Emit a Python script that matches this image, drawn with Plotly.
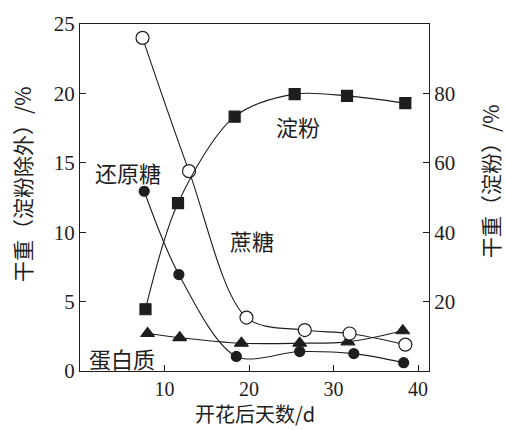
import plotly.graph_objects as go

# Data
sucrose_x = [7.4, 12.9, 19.7, 26.6, 31.9, 38.5]
sucrose_y = [24.0, 14.4, 3.85, 2.95, 2.7, 1.9]

starch_x = [7.75, 11.6, 18.3, 25.4, 31.6, 38.5]
starch_y = [17.8, 48.4, 73.3, 79.8, 79.3, 77.2]

reducing_x = [7.6, 11.7, 18.5, 26.0, 32.4, 38.3]
reducing_y = [12.95, 6.95, 1.05, 1.4, 1.25, 0.6]

protein_x = [8.0, 11.8, 19.1, 26.0, 31.7, 38.2]
protein_y = [2.7, 2.4, 2.0, 2.0, 2.1, 2.9]

x_ticks = [10, 20, 30, 40]
y_left_ticks = [0, 5, 10, 15, 20, 25]
y_right_ticks = [20, 40, 60, 80]

INK = "#1e1e1e"
NUM_FONT = dict(family="Liberation Serif", size=21, color=INK)
X_NUM_FONT = dict(family="Liberation Serif", size=20, color=INK)
CJK = "Noto Sans CJK SC"

# plot box in pixels
L, R, T, B = 80, 429, 13, 371
W, H = 506, 430

fig = go.Figure()

def line_trace(x, y, symbol, size, fill, yaxis="y"):
    return go.Scatter(
        x=x, y=y, mode="lines+markers", yaxis=yaxis,
        line=dict(color=INK, width=1.1, shape="spline", smoothing=0.9),
        marker=dict(symbol=symbol, size=size, color=fill,
                    line=dict(color=INK, width=1.2)),
        showlegend=False, cliponaxis=False, hoverinfo="skip",
    )

fig.add_trace(line_trace(starch_x, starch_y, "square", 11, INK, yaxis="y2"))
fig.add_trace(line_trace(protein_x, protein_y, "triangle-up", 12, INK))
fig.add_trace(line_trace(reducing_x, reducing_y, "circle", 10, INK))
fig.add_trace(line_trace(sucrose_x, sucrose_y, "circle", 13, "white"))

fig.update_layout(
    width=W, height=H,
    margin=dict(l=L, r=W - R, t=T, b=H - B),
    paper_bgcolor="white", plot_bgcolor="white",
    xaxis=dict(
        range=[0, 41.3], tickvals=x_ticks, ticks="inside", ticklen=6,
        tickcolor=INK, showline=True, linecolor=INK, linewidth=1.3,
        mirror=True, showgrid=False, zeroline=False, tickfont=X_NUM_FONT,
    ),
    yaxis=dict(
        range=[0, 25], tickvals=y_left_ticks, ticks="inside", ticklen=6,
        tickcolor=INK, showline=True, linecolor=INK, linewidth=1.3,
        showgrid=False, zeroline=False, tickfont=NUM_FONT,
    ),
    yaxis2=dict(
        range=[0, 100], tickvals=y_right_ticks, ticks="inside", ticklen=6,
        tickcolor=INK, showline=True, linecolor=INK, linewidth=1.3,
        overlaying="y", side="right", showgrid=False, zeroline=False,
        tickfont=NUM_FONT,
    ),
)

def note(text, px, py, size=22, angle=0):
    fig.add_annotation(
        text=text, x=(px - L) / (R - L), y=(B - py) / (B - T),
        xref="paper", yref="paper",
        showarrow=False, textangle=angle,
        font=dict(family=CJK, size=size, color=INK),
        xanchor="center", yanchor="middle",
    )

# Curve labels (pixel positions)
note("淀粉", 298, 118)
note("还原糖", 128, 166)
note("蔗糖", 252, 236)
note("蛋白质", 122, 358)

# Axis titles
note("开花后天数/d", 255, 415, size=20)
note("干重（淀粉除外）/%", 22, 178, size=21, angle=-90)
note("干重（淀粉）/%", 490, 175, size=21, angle=-90)

fig.write_html(
    "out.html",
    config={"displayModeBar": False},
    post_script="document.body.style.margin='0px';document.body.style.overflow='hidden';",
)
